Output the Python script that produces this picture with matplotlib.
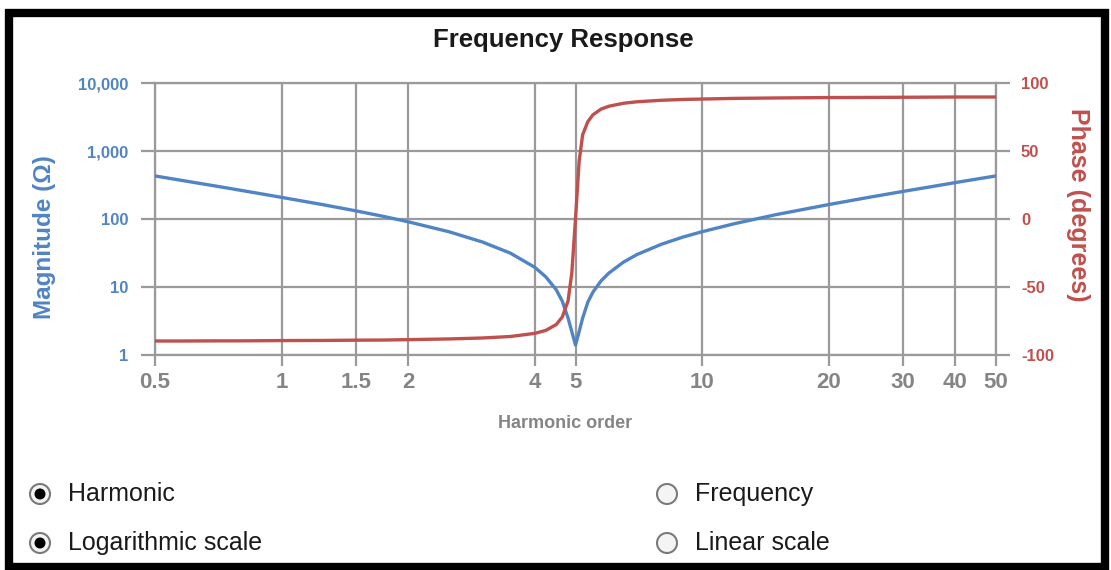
import matplotlib
matplotlib.use('Agg')
import matplotlib.pyplot as plt
from matplotlib.patches import Circle, Rectangle

plt.rcParams['font.family'] = ['Liberation Sans', 'DejaVu Sans']
plt.rcParams['axes.unicode_minus'] = False

# ---- DATA ----
harmonic = [0.5, 0.6, 0.7, 0.8, 0.9, 1.0, 1.25, 1.5, 1.75, 2.0, 2.5, 3.0, 3.5, 4.0,
            4.25, 4.5, 4.65, 4.8, 4.9, 5.0, 5.1, 5.2, 5.35, 5.5, 5.75, 6.0, 6.5, 7.0,
            8.0, 9.0, 10.0, 12.0, 15.0, 20.0, 25.0, 30.0, 35.0, 40.0, 45.0, 50.0]
magnitude = [430, 356, 304, 264, 233, 208, 163, 132, 109, 91, 65, 46, 31.5, 19.5,
             14.1, 9.1, 6.2, 3.5, 2.2, 1.4, 2.2, 3.5, 6.0, 8.4, 12.3, 16, 23.2, 30,
             42.5, 54.2, 65, 86, 116, 163, 209, 254, 298, 343, 387, 430]
phase = [-89.7, -89.7, -89.6, -89.6, -89.5, -89.4, -89.3, -89.1, -89.0, -88.7, -88.2,
         -87.5, -86.4, -84.1, -81.9, -77.6, -72.1, -60.3, -39.7, 0, 42.3, 62.0, 71.6,
         76.6, 80.8, 82.9, 85.1, 86.2, 87.3, 87.9, 88.2, 88.7, 89.0, 89.3, 89.4, 89.5,
         89.6, 89.7, 89.7, 89.7]

x_ticks = [0.5, 1, 1.5, 2, 4, 5, 10, 20, 30, 40, 50]
x_labels = ['0.5', '1', '1.5', '2', '4', '5', '10', '20', '30', '40', '50']
mag_ticks = [1, 10, 100, 1000, 10000]
mag_labels = ['1', '10', '100', '1,000', '10,000']
phase_ticks = [-100, -50, 0, 50, 100]

BLUE = '#5084c4'
RED = '#c0504d'
GRID = '#9a9a9a'
GRAY_TXT = '#858585'

W, H = 1111, 570
fig = plt.figure(figsize=(W / 100, H / 100), dpi=100)

# ---- main axes ----
ax = fig.add_axes([155 / W, 1 - 355 / H, (996 - 155) / W, (355 - 83) / H])
ax.set_xscale('log')
ax.set_yscale('log')
ax.set_xlim(0.5, 50)
ax.set_ylim(1, 10000)
ax.set_xticks(x_ticks)
ax.set_xticklabels(x_labels)
ax.xaxis.set_minor_locator(matplotlib.ticker.NullLocator())
ax.set_yticks(mag_ticks)
ax.set_yticklabels(mag_labels)
ax.yaxis.set_minor_locator(matplotlib.ticker.NullLocator())
ax.grid(True, color=GRID, linewidth=1.6)
for s in ax.spines.values():
    s.set_color(GRID)
    s.set_linewidth(1.6)
ax.tick_params(axis='x', length=8, width=1.6, color=GRID, pad=4, labelsize=16,
               labelcolor=GRAY_TXT)
ax.tick_params(axis='y', length=10, width=1.6, color=GRID, pad=9, labelsize=12,
               labelcolor=BLUE)
for lab in ax.get_xticklabels() + ax.get_yticklabels():
    lab.set_fontweight('bold')
ax.plot(harmonic, magnitude, color=BLUE, lw=2.4, zorder=3)

ax2 = ax.twinx()
ax2.set_ylim(-100, 100)
ax2.set_yticks(phase_ticks)
for s in ax2.spines.values():
    s.set_visible(False)
ax2.tick_params(axis='y', length=10, width=1.6, color=GRID, pad=8, labelsize=12,
                labelcolor=RED)
for lab in ax2.get_yticklabels():
    lab.set_fontweight('bold')
ax2.plot(harmonic, phase, color=RED, lw=2.4, zorder=3)

# ---- texts ----
fig.text(563 / W, 1 - 40 / H, 'Frequency Response', ha='center', va='center',
         fontsize=18.5, fontweight='bold', color='#1a1a1a')
fig.text(565 / W, 1 - 423 / H, 'Harmonic order', ha='center', va='center',
         fontsize=13, fontweight='bold', color=GRAY_TXT)
fig.text(45 / W, 1 - 237 / H, 'Magnitude (Ω)', ha='center', va='center',
         rotation=90, fontsize=17.5, fontweight='bold', color=BLUE)
fig.text(1078 / W, 1 - 205 / H, 'Phase (degrees)', ha='center', va='center',
         rotation=270, fontsize=18, fontweight='bold', color=RED)

# ---- overlay: frame and radio buttons ----
ov = fig.add_axes([0, 0, 1, 1], zorder=-1)
ov.set_xlim(0, W)
ov.set_ylim(H, 0)
ov.axis('off')
ov.add_patch(Rectangle((9, 13), 1096, 554, fill=False, edgecolor='black', lw=6))

radios = [(40, 494, 'Harmonic', True), (40, 543, 'Logarithmic scale', True),
          (667, 494, 'Frequency', False), (667, 543, 'Linear scale', False)]
for cx, cy, txt, sel in radios:
    ov.add_patch(Circle((cx, cy), 10, facecolor='#f4f4f4', edgecolor='#7a7a7a', lw=1.5))
    if sel:
        ov.add_patch(Circle((cx, cy), 5.5, facecolor='black', edgecolor='none'))
    ov.text(cx + 28, cy, txt, ha='left', va='center', fontsize=18, color='#1a1a1a')

fig.savefig('out.png', dpi=100)
